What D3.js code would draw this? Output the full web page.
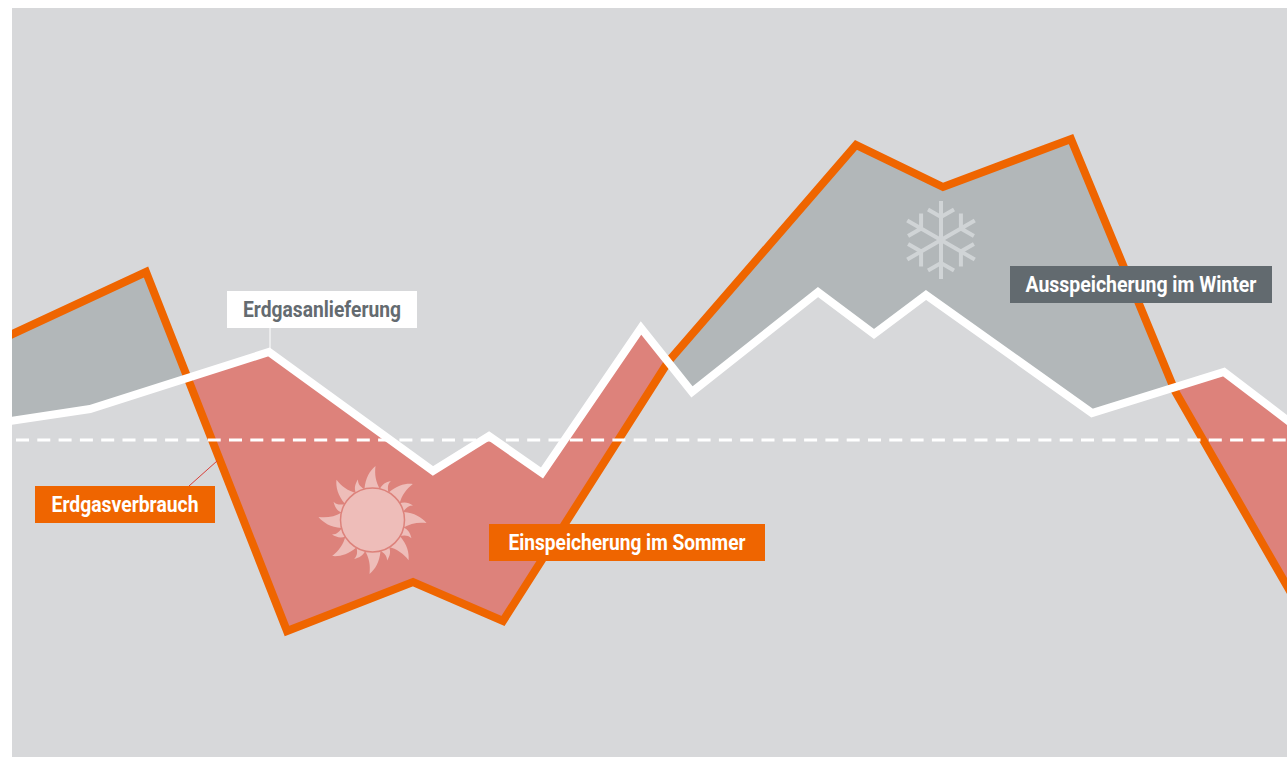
<!DOCTYPE html>
<html lang="de">
<head>
<meta charset="utf-8">
<script src="https://cdn.jsdelivr.net/npm/d3@7"></script>
<style>
html, body { margin: 0; background: #fff; }
svg { display: block; }
</style>
</head>
<body>
<div id="chart"></div>
<script>
// values, 0 = the dashed mean line
var supplyT = [-8, 78, 257, 421, 477, 530, 629, 680, 806, 862, 914, 1080, 1212, 1283];
var supplyV = [18, 31, 88, -31, 4, -33, 112, 48, 148, 106, 145, 27, 68, 14];
var demandT = [-8, 134, 275, 401, 491, 656, 844, 931, 1059, 1163, 1283];
var demandV = [102, 168, -191, -142, -181, 78, 295, 253, 301, 49, -160];

var labelNames = ["Erdgasanlieferung", "Erdgasverbrauch", "Einspeicherung im Sommer", "Ausspeicherung im Winter"];

var width = 1287, height = 757;
var colors = { bg: "#d7d8da", grey: "#b2b7b9", red: "#dd827b", orange: "#ef6500", slate: "#626a6f" };

var x = d3.scaleLinear().domain([0, 1275]).range([12, 1287]);
var y = d3.scaleLinear().domain([-317, 432]).range([757, 8]);

var svg = d3.select("#chart").append("svg")
  .attr("width", width)
  .attr("height", height);

svg.append("clipPath").attr("id", "plot")
  .append("rect")
  .attr("x", x(0)).attr("y", y(432))
  .attr("width", x(1275) - x(0)).attr("height", y(-317) - y(432));

svg.append("rect")
  .attr("x", x(0)).attr("y", y(432))
  .attr("width", x(1275) - x(0)).attr("height", y(-317) - y(432))
  .attr("fill", colors.bg);

var g = svg.append("g").attr("clip-path", "url(#plot)");

// piecewise lookups so both lines can be compared at any t
var supplyAt = d3.scaleLinear().domain(supplyT).range(supplyV);
var demandAt = d3.scaleLinear().domain(demandT).range(demandV);

var ts = d3.sort(Array.from(new Set(supplyT.concat(demandT))), function(a, b) { return a - b; });
var rows = [];
ts.forEach(function(t, i) {
  rows.push(t);
  if (i < ts.length - 1) {
    var d0 = demandAt(t) - supplyAt(t);
    var d1 = demandAt(ts[i + 1]) - supplyAt(ts[i + 1]);
    if (d0 * d1 < 0) rows.push(t + (ts[i + 1] - t) * d0 / (d0 - d1));
  }
});

function band(keep) {
  return d3.area()
    .defined(function(t) { return keep(demandAt(t) - supplyAt(t)); })
    .x(function(t) { return x(t); })
    .y0(function(t) { return y(supplyAt(t)); })
    .y1(function(t) { return y(demandAt(t)); });
}

g.append("path")
  .attr("d", band(function(d) { return d >= -1e-6; })(rows))
  .attr("fill", colors.grey);

g.append("path")
  .attr("d", band(function(d) { return d <= 1e-6; })(rows))
  .attr("fill", colors.red);

var line = d3.line()
  .x(function(d) { return x(d[0]); })
  .y(function(d) { return y(d[1]); });

g.append("path")
  .attr("d", line(d3.zip(demandT, demandV)))
  .attr("fill", "none")
  .attr("stroke", colors.orange)
  .attr("stroke-width", 8)
  .attr("stroke-miterlimit", 10);

g.append("path")
  .attr("d", line(d3.zip(supplyT, supplyV)))
  .attr("fill", "none")
  .attr("stroke", "#fff")
  .attr("stroke-width", 8)
  .attr("stroke-miterlimit", 10);

// dashed mean
g.append("line")
  .attr("x1", x(4)).attr("x2", x(1275))
  .attr("y1", y(0)).attr("y2", y(0))
  .attr("stroke", "#fff")
  .attr("stroke-width", 3)
  .attr("stroke-dasharray", "13 8.3");

// sun
var sun = svg.append("g").attr("transform", "translate(372.5,520)");
d3.range(16).forEach(function(i) {
  var p = i % 2 === 0
    ? "M-8,-31 C-7,-42 -3,-49 3,-54 C2,-46 3,-38 8,-30 Z"
    : "M-5,-31 C-5,-37 -2,-40 2,-43 C0,-38 2,-35 5,-30 Z";
  sun.append("path")
    .attr("d", p)
    .attr("transform", "rotate(" + (i * 22.5) + ")")
    .attr("fill", "#eebdb9");
});
sun.append("circle")
  .attr("r", 32)
  .attr("fill", "#eebdb9")
  .attr("stroke", "#dd827b")
  .attr("stroke-width", 1.5);

// snowflake
var flake = svg.append("g").attr("transform", "translate(941,240)");
d3.range(6).forEach(function(i) {
  flake.append("path")
    .attr("d", "M0,0V-39M-13,-30.5L0,-23L13,-30.5")
    .attr("transform", "rotate(" + (i * 60) + ")")
    .attr("fill", "none")
    .attr("stroke", "#d0d4d6")
    .attr("stroke-width", 4);
});

// leader lines
svg.append("line")
  .attr("x1", 270).attr("x2", 270).attr("y1", 328).attr("y2", 349)
  .attr("stroke", "#fff").attr("stroke-width", 1);
svg.append("line")
  .attr("x1", 189).attr("x2", 217).attr("y1", 486).attr("y2", 461)
  .attr("stroke", "#d8403a").attr("stroke-width", 1);

// labels
function label(name, left, top, w, textW, fill, color) {
  svg.append("rect")
    .attr("x", left).attr("y", top)
    .attr("width", w).attr("height", 37)
    .attr("fill", fill);
  svg.append("text")
    .attr("x", left + w / 2)
    .attr("y", top + 26)
    .attr("text-anchor", "middle")
    .attr("font-family", "'Roboto', sans-serif")
    .attr("font-weight", 700)
    .attr("font-size", 21.5)
    .attr("textLength", textW)
    .attr("lengthAdjust", "spacingAndGlyphs")
    .attr("fill", color)
    .text(name);
}

label(labelNames[0], 227, 291, 190, 158, "#fff", "#646b70");
label(labelNames[1], 35, 486, 180, 147, colors.orange, "#fff");
label(labelNames[2], 489, 524, 276, 237, colors.orange, "#fff");
label(labelNames[3], 1010, 266, 262, 231, colors.slate, "#fff");
</script>
</body>
</html>
